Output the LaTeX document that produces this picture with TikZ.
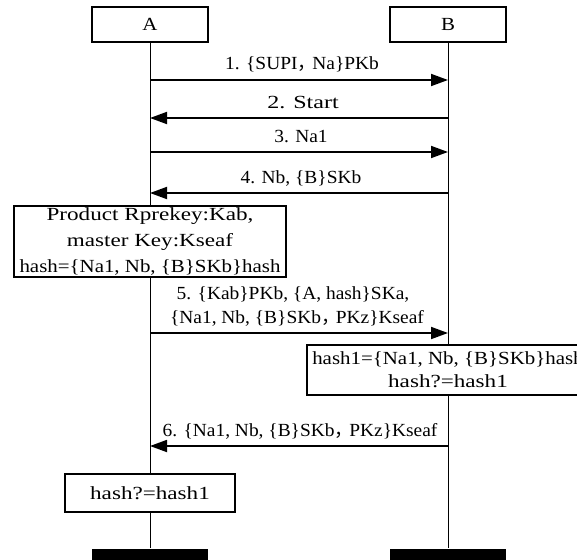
\documentclass[tikz,border=0pt]{standalone}
\usepackage{fontspec}
\setmainfont[FakeStretch=1.13]{Liberation Serif}
\newfontfamily\cjkfont{Noto Sans CJK SC}
\usetikzlibrary{arrows.meta,backgrounds}
\newcommand{\fwc}{\makebox[0.8em][l]{\cjkfont ，}}
\begin{document}
\begin{tikzpicture}[x=1pt,y=-1pt,line width=1.8pt,
  font=\fontsize{18.5}{24}\selectfont,
  box/.style={draw,fill=white,inner sep=0pt,align=center},
  actor/.style={box,minimum width=116pt,minimum height=35pt},
  endbar/.style={fill=black,inner sep=0pt,minimum width=116pt,minimum height=13pt},
  msg/.style={-{Triangle[length=17pt,width=12pt]}},
  lbl/.style={anchor=base,inner sep=0pt,font=\fontsize{18.5}{24}\selectfont\addfontfeature{FakeStretch=1.05}}]
\useasboundingbox (0,0) rectangle (577,559);
% actors
\node[actor] (A) at (150,24.5) {A};
\node[actor] (B) at (448,24.5) {B};
\node[endbar] (endA) at (150,555.5) {};
\node[endbar] (endB) at (448,555.5) {};
% action boxes
\node[box,minimum width=272pt,minimum height=71pt,font=\fontsize{18.5}{26}\selectfont] (P1) at (150,241.5)
  {\addfontfeature{FakeStretch=1.25}Product Rprekey:Kab,\\ \addfontfeature{FakeStretch=1.25}master Key:Kseaf\\ hash=\{Na1, Nb, \{B\}SKb\}hash};
\node[box,minimum width=282pt,minimum height=50pt,font=\fontsize{18.5}{23}\selectfont] (P2) at (448,370)
  {hash1=\{Na1, Nb, \{B\}SKb\}hash\\ \addfontfeature{FakeStretch=1.25}hash?=hash1};
\node[box,minimum width=170pt,minimum height=38pt,font=\fontsize{18.5}{24}\selectfont\addfontfeature{FakeStretch=1.25}] (P3) at (150,493) {hash?=hash1};
% lifelines
\begin{scope}[on background layer]
\draw (A) -- (endA);
\draw (B) -- (endB);
\end{scope}
% message end points
\coordinate (a1) at (150,80);  \coordinate (b1) at (448,80);
\coordinate (a2) at (150,118); \coordinate (b2) at (448,118);
\coordinate (a3) at (150,152); \coordinate (b3) at (448,152);
\coordinate (a4) at (150,193); \coordinate (b4) at (448,193);
\coordinate (a5) at (150,333); \coordinate (b5) at (448,333);
\coordinate (a6) at (150,446); \coordinate (b6) at (448,446);
% messages
\draw[msg] (a1) -- (b1);
\draw[msg] (b2) -- (a2);
\draw[msg] (a3) -- (b3);
\draw[msg] (b4) -- (a4);
\draw[msg] (a5) -- (b5);
\draw[msg] (b6) -- (a6);
% labels
\node[lbl] (l1) at (302,70) {1. \{SUPI\fwc Na\}PKb};
\node[lbl] (l2) at (303,108) {\addfontfeature{FakeStretch=1.3}2. Start};
\node[lbl] (l3) at (301,142) {3. Na1};
\node[lbl] (l4) at (301,183) {4. Nb, \{B\}SKb};
\node[lbl] (l5a) at (293,299) {5. \{Kab\}PKb, \{A, hash\}SKa,};
\node[lbl] (l5b) at (297,323) {\{Na1, Nb, \{B\}SKb\fwc PKz\}Kseaf};
\node[lbl] (l6) at (300,436) {6. \{Na1, Nb, \{B\}SKb\fwc PKz\}Kseaf};
\end{tikzpicture}
\end{document}
